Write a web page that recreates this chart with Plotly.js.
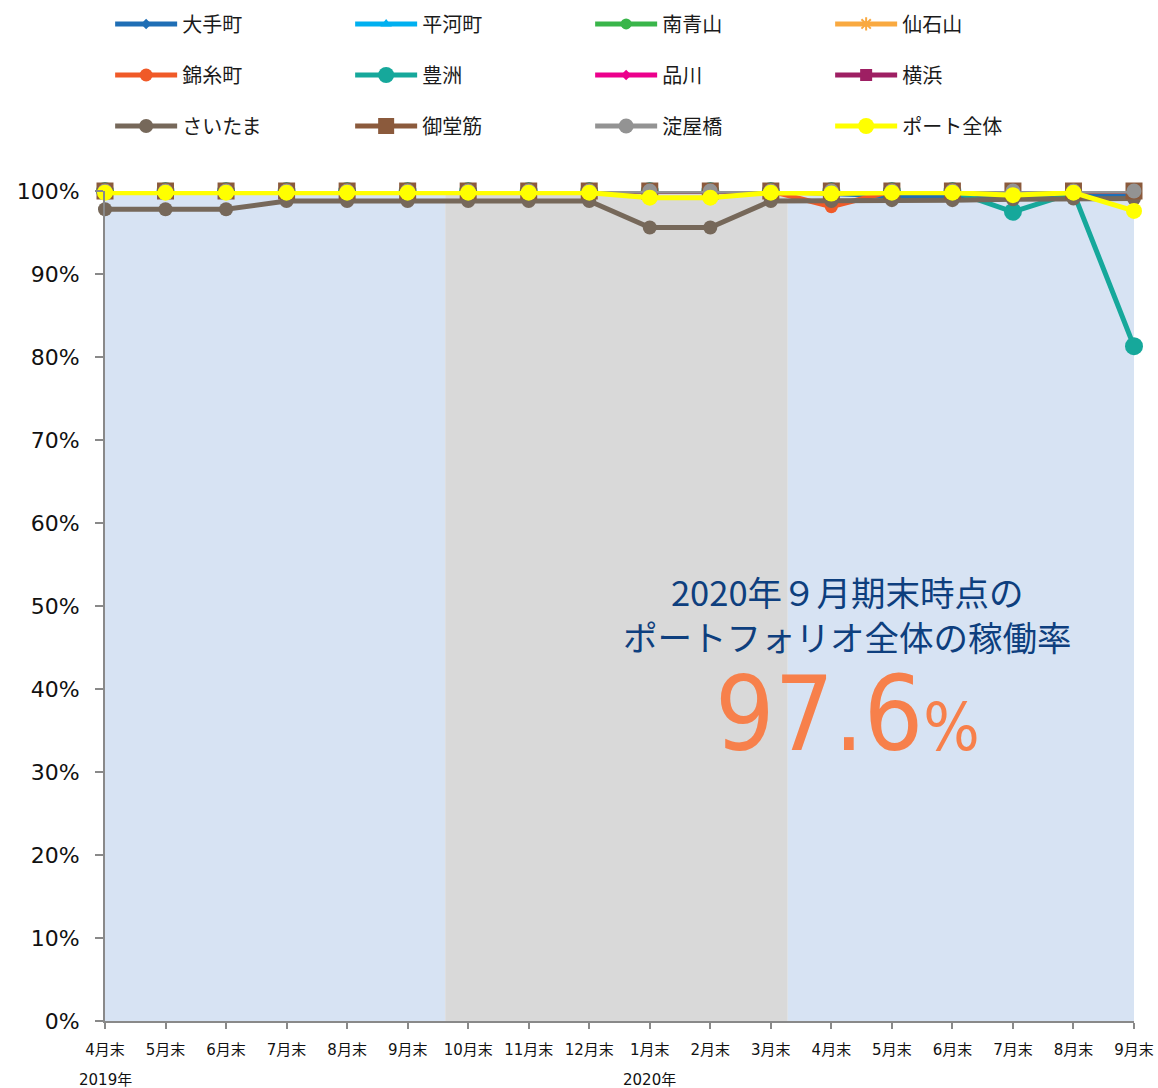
<!DOCTYPE html>
<html>
<head>
<meta charset="utf-8">
<script src="https://cdn.plot.ly/plotly-3.0.1.min.js"></script>
<style>
  html, body { margin: 0; padding: 0; background: #ffffff; }
  #chart { width: 1158px; height: 1088px; }
</style>
</head>
<body>
<div id="chart"></div>
<script>
// ---- Data ----
const monthLabels = ["4月末","5月末","6月末","7月末","8月末","9月末","10月末","11月末","12月末",
                     "1月末","2月末","3月末","4月末","5月末","6月末","7月末","8月末","9月末"];
const yearLabels = ["2019年", "2020年"];
const yearLabelAt = [0, 9];

const seriesNames = ["大手町","平河町","南青山","仙石山","錦糸町","豊洲","品川","横浜","さいたま","御堂筋","淀屋橋","ポート全体"];

const otemachi   = [100,100,100,100,100,100,100,100,100,100,100,100,99.7,99.4,99.4,99.4,99.4,99.4];
const hirakawa   = [100,100,100,100,100,100,100,100,100,100,100,100,100,100,100,100,100,100];
const minamiAoyama=[100,100,100,100,100,100,100,100,100,100,100,100,100,100,100,100,100,100];
const sengokuyama= [100,100,100,100,100,100,100,100,100,100,100,100,100,100,100,100,100,100];
const kinshicho  = [100,100,100,100,100,100,100,100,100,100,100,100,98.1,100,100,100,100,100];
const toyosu     = [100,100,100,100,100,100,100,100,100,100,100,100,100,100,100,97.5,99.8,81.3];
const shinagawa  = [100,100,100,100,100,100,100,100,100,100,100,100,100,100,100,100,100,100];
const yokohama   = [100,100,100,100,100,100,100,100,100,100,100,100,100,100,100,100,100,100];
const saitama    = [97.8,97.8,97.8,98.8,98.8,98.8,98.8,98.8,98.8,95.6,95.6,98.8,98.8,98.9,98.9,99.0,99.1,99.1];
const midosuji   = [100,100,100,100,100,100,100,100,100,100,100,100,100,100,100,100,100,100];
const yodoyabashi= [100,100,100,100,100,100,100,100,100,100,100,100,100,100,100,100,100,100];
const portfolio  = [99.8,99.8,99.8,99.8,99.8,99.8,99.8,99.8,99.8,99.2,99.2,99.8,99.7,99.8,99.8,99.5,99.8,97.6];

const periodEdges = [0, 5.62, 11.28, 17];   // background bands (category index units)
const yTicks = [0,10,20,30,40,50,60,70,80,90,100];
const yTickText = yTicks.map(v => v + "%");

// ---- Styles ----
const styles = [
  {color:"#1F6EB5", symbol:"diamond",     size:8,  legend:"legend"},
  {color:"#00B0F0", symbol:"triangle-up", size:10, legend:"legend"},
  {color:"#39B54A", symbol:"circle",      size:11, legend:"legend"},
  {color:"#F9A940", symbol:"asterisk-open", size:11, legend:"legend"},
  {color:"#F05A28", symbol:"circle",      size:13, legend:"legend2"},
  {color:"#16A89B", symbol:"circle",      size:18, legend:"legend2"},
  {color:"#EC008C", symbol:"diamond",     size:8,  legend:"legend2"},
  {color:"#9E1F63", symbol:"square",      size:12, legend:"legend2"},
  {color:"#76685A", symbol:"circle",      size:14, legend:"legend3"},
  {color:"#8B5A3C", symbol:"square",      size:17, legend:"legend3"},
  {color:"#939393", symbol:"circle",      size:15, legend:"legend3"},
  {color:"#FFFF00", symbol:"circle",      size:16, legend:"legend3"}
];
const allSeries = [otemachi,hirakawa,minamiAoyama,sengokuyama,kinshicho,toyosu,shinagawa,yokohama,saitama,midosuji,yodoyabashi,portfolio];

const xIdx = monthLabels.map((_, i) => i);

const traces = allSeries.map((vals, k) => ({
  type: "scatter",
  mode: "lines+markers",
  name: seriesNames[k],
  x: xIdx,
  y: vals,
  legend: styles[k].legend,
  cliponaxis: false,
  line: {color: styles[k].color, width: 5},
  marker: {color: styles[k].color, symbol: styles[k].symbol, size: styles[k].size,
           line: {color: styles[k].color, width: styles[k].symbol === "asterisk-open" ? 2 : 0}}
}));

const bandColors = ["#D7E3F3", "#D9D9D9", "#D7E3F3"];
const shapes = bandColors.map((c, i) => ({
  type: "rect", xref: "x", yref: "y", layer: "below",
  x0: periodEdges[i], x1: periodEdges[i+1], y0: 0, y1: 100,
  fillcolor: c, line: {width: 0}
}));

const noteText = "2020年９月期末時点の<br>ポートフォリオ全体の稼働率";
const annotations = [
  {xref:"x", yref:"y", x:12.27, y:49.1, showarrow:false, text:noteText, align:"center",
   font:{family:"Noto Sans CJK JP", size:34.5, color:"#0E3F7E"}},
  {xref:"x", yref:"y", x:12.27, y:37.0, showarrow:false,
   text: portfolio[portfolio.length-1].toFixed(1) + "<span style='font-size:66px'>%</span>",
   font:{family:"DejaVu Sans Condensed, DejaVu Sans", size:104, color:"#F7804B"}}
];
yearLabels.forEach((t, i) => annotations.push({
  xref:"x", yref:"paper", x: yearLabelAt[i], y: -0.071, showarrow:false,
  text: t, yanchor:"middle",
  font:{family:"DejaVu Sans, Noto Sans CJK JP", size:15, color:"#111"}
}));

const legendCommon = {
  orientation: "h", xref: "paper", yref: "container", x: 0.005, xanchor: "left", yanchor: "top",
  entrywidth: 163, entrywidthmode: "pixels",
  font: {family: "Noto Sans CJK JP", size: 20, color: "#1a1a1a"},
  bgcolor: "rgba(0,0,0,0)", itemwidth: 62, traceorder: "normal"
};

const layout = {
  width: 1158, height: 1088,
  margin: {l: 105, r: 24, t: 191, b: 67, autoexpand: false},
  paper_bgcolor: "#ffffff", plot_bgcolor: "rgba(0,0,0,0)",
  showlegend: true,
  legend:  Object.assign({}, legendCommon, {y: 0.9959}),
  legend2: Object.assign({}, legendCommon, {y: 0.9490}),
  legend3: Object.assign({}, legendCommon, {y: 0.9021}),
  xaxis: {
    range: [0, 17], tickvals: xIdx, ticktext: monthLabels,
    showgrid: false, zeroline: false, showline: true, linecolor: "#898989", linewidth: 2,
    ticks: "outside", ticklen: 6, tickcolor: "#898989", tickwidth: 2,
    ticklabelstandoff: 8,
    tickfont: {family: "DejaVu Sans, Noto Sans CJK JP", size: 15, color: "#111"}
  },
  yaxis: {
    range: [0, 100], tickvals: yTicks, ticktext: yTickText,
    showgrid: false, zeroline: false, showline: true, linecolor: "#898989", linewidth: 2,
    ticks: "outside", ticklen: 8, tickcolor: "#898989", tickwidth: 2,
    ticklabelstandoff: 11,
    tickfont: {family: "DejaVu Sans", size: 22, color: "#111"}
  },
  shapes: shapes,
  annotations: annotations
};

Plotly.newPlot("chart", traces, layout, {displayModeBar: false, staticPlot: true});
</script>
</body>
</html>
